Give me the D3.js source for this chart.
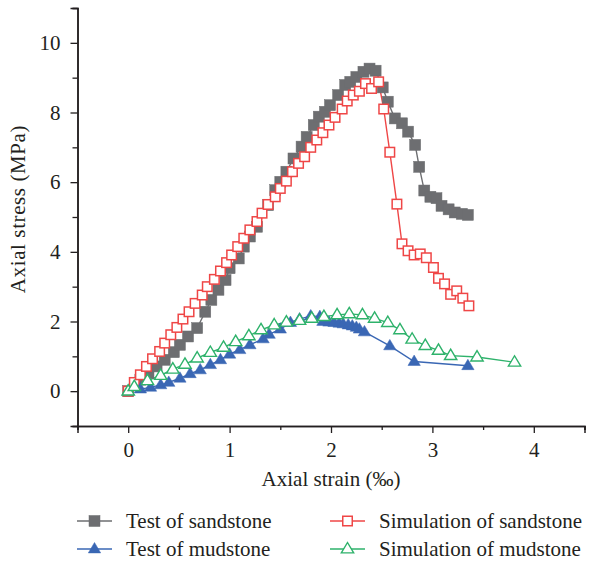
<!DOCTYPE html>
<html>
<head>
<meta charset="utf-8">
<script src="https://cdn.jsdelivr.net/npm/d3@7"></script>
<style>
  body { margin: 0; background: #fff; }
  svg text { font-family: "Liberation Serif", "DejaVu Serif", serif; fill: #231f20; }
</style>
</head>
<body>
<div id="chart"></div>
<script>
// Test of sandstone (strain ‰, stress MPa)
const testSandstone = [
  [0, 0], [0.12, 0.33], [0.20, 0.52], [0.28, 0.71], [0.36, 0.90], [0.45, 1.12], [0.51, 1.33],
  [0.59, 1.57], [0.68, 1.81], [0.76, 2.28], [0.82, 2.62], [0.89, 2.91], [0.96, 3.19], [1.00, 3.53],
  [1.09, 3.81], [1.14, 4.15], [1.20, 4.44], [1.27, 4.72], [1.38, 5.34], [1.45, 5.77], [1.50, 6.01],
  [1.56, 6.30], [1.63, 6.68], [1.71, 7.02], [1.76, 7.30], [1.83, 7.64], [1.88, 7.88], [1.94, 8.02],
  [1.99, 8.21], [2.07, 8.50], [2.14, 8.79], [2.19, 8.88], [2.25, 9.02], [2.32, 9.17], [2.38, 9.26],
  [2.44, 9.20], [2.51, 8.72], [2.56, 8.31], [2.63, 7.83], [2.70, 7.69], [2.76, 7.45], [2.83, 7.07],
  [2.87, 6.44], [2.92, 5.76], [2.98, 5.58], [3.04, 5.54], [3.09, 5.32], [3.16, 5.22], [3.22, 5.13],
  [3.29, 5.09], [3.35, 5.06]
];

// Simulation of sandstone
const simSandstone = [
  [0, 0], [0.06, 0.25], [0.12, 0.47], [0.18, 0.71], [0.24, 0.93], [0.31, 1.14], [0.36, 1.38],
  [0.42, 1.62], [0.48, 1.83], [0.54, 2.07], [0.60, 2.28], [0.66, 2.52], [0.73, 2.76], [0.78, 3.00],
  [0.85, 3.21], [0.91, 3.45], [0.97, 3.69], [1.02, 3.91], [1.08, 4.15], [1.14, 4.39], [1.20, 4.63],
  [1.27, 4.87], [1.32, 5.11], [1.38, 5.36], [1.45, 5.58], [1.50, 5.82], [1.56, 6.03], [1.62, 6.30],
  [1.68, 6.54], [1.74, 6.73], [1.80, 7.00], [1.86, 7.21], [1.92, 7.42], [1.98, 7.64], [2.04, 7.86],
  [2.11, 8.10], [2.16, 8.33], [2.22, 8.50], [2.28, 8.61], [2.34, 8.83], [2.40, 8.69], [2.47, 8.88],
  [2.52, 8.10], [2.58, 6.86], [2.65, 5.37], [2.70, 4.23], [2.76, 4.03], [2.82, 3.91], [2.88, 3.94],
  [2.94, 3.83], [3.01, 3.55], [3.06, 3.24], [3.12, 3.08], [3.18, 2.78], [3.24, 2.88], [3.30, 2.67],
  [3.36, 2.45]
];

// Test of mudstone
const testMudstone = [
  [0, 0], [0.12, 0.06], [0.22, 0.11], [0.32, 0.18], [0.40, 0.25], [0.51, 0.37], [0.61, 0.50],
  [0.71, 0.61], [0.81, 0.76], [0.91, 0.90], [1.00, 1.06], [1.10, 1.19], [1.20, 1.33], [1.33, 1.50],
  [1.39, 1.63], [1.50, 1.78], [1.60, 1.97], [1.69, 2.07], [1.80, 2.16], [1.89, 2.14], [1.92, 2.00],
  [1.98, 1.98], [2.03, 1.97], [2.08, 1.95], [2.12, 1.93], [2.17, 1.90], [2.21, 1.87], [2.25, 1.83],
  [2.28, 1.78], [2.33, 1.70], [2.58, 1.30], [2.82, 0.85], [3.35, 0.73]
];

// Simulation of mudstone
const simMudstone = [
  [0, 0], [0.06, 0.13], [0.19, 0.30], [0.32, 0.45], [0.44, 0.63], [0.56, 0.77], [0.68, 0.95],
  [0.81, 1.11], [0.94, 1.26], [1.06, 1.42], [1.19, 1.59], [1.31, 1.76], [1.44, 1.90], [1.56, 1.98],
  [1.69, 2.03], [1.81, 2.09], [1.93, 2.14], [2.06, 2.19], [2.18, 2.22], [2.31, 2.19], [2.43, 2.09],
  [2.56, 1.97], [2.68, 1.76], [2.80, 1.49], [2.93, 1.31], [3.06, 1.17], [3.18, 1.02], [3.44, 0.98],
  [3.81, 0.83]
];

const xTicks = [0, 1, 2, 3, 4];
const yTicks = [0, 2, 4, 6, 8, 10];

const width = 594, height = 562;
const fontSize = 21;

const svg = d3.select("#chart").append("svg")
  .attr("width", width)
  .attr("height", height);

const x = d3.scaleLinear().domain([-0.5, 4.5]).range([77.5, 584.5]);
const y = d3.scaleLinear().domain([-1, 11]).range([426, 8]);

const series = [
  { name: "Test of sandstone", data: testSandstone, color: "#6d6e71", shape: "square", filled: true },
  { name: "Simulation of sandstone", data: simSandstone, color: "#ef4646", shape: "square", filled: false },
  { name: "Test of mudstone", data: testMudstone, color: "#3a67b4", shape: "triangle", filled: true },
  { name: "Simulation of mudstone", data: simMudstone, color: "#2eb26b", shape: "triangle", filled: false }
];

function drawMarker(g, s, cx, cy) {
  if (s.shape === "square") {
    const size = s.filled ? 11 : 9.5;
    g.append("rect")
      .attr("x", cx - size / 2).attr("y", cy - size / 2)
      .attr("width", size).attr("height", size)
      .attr("fill", s.filled ? s.color : "#fff")
      .attr("stroke", s.color)
      .attr("stroke-width", s.filled ? 0.5 : 1.5);
  } else {
    const r = 6.5;
    const pts = [[cx, cy - r], [cx + r * 0.95, cy + r * 0.6], [cx - r * 0.95, cy + r * 0.6]];
    g.append("path")
      .attr("d", "M" + pts.join("L") + "Z")
      .attr("fill", s.filled ? s.color : "#fff")
      .attr("stroke", s.color)
      .attr("stroke-width", s.filled ? 0.5 : 1.4);
  }
}

// axes
const xAxis = svg.append("g").attr("transform", `translate(0,${y(-1)})`);
xAxis.call(d3.axisBottom(x).tickValues(xTicks).tickSize(7).tickPadding(9).tickFormat(d3.format("d")));
const xMinor = svg.append("g").attr("transform", `translate(0,${y(-1)})`);
xMinor.call(d3.axisBottom(x).tickValues([-0.5, 0.5, 1.5, 2.5, 3.5, 4.5]).tickSize(4).tickFormat(""));

const yAxis = svg.append("g").attr("transform", `translate(${x(-0.5)},0)`);
yAxis.call(d3.axisLeft(y).tickValues(yTicks).tickSize(7).tickPadding(10).tickFormat(d3.format("d")));
const yMinor = svg.append("g").attr("transform", `translate(${x(-0.5)},0)`);
yMinor.call(d3.axisLeft(y).tickValues([-1, 1, 3, 5, 7, 9, 11]).tickSize(5).tickFormat(""));

svg.selectAll(".domain").attr("stroke", "#231f20").attr("stroke-width", 1.5);
svg.selectAll(".tick line").attr("stroke", "#231f20").attr("stroke-width", 1.3);
svg.selectAll(".tick text")
  .attr("font-family", "Liberation Serif, serif")
  .attr("font-size", fontSize)
  .attr("fill", "#231f20");

// lines and markers
const line = d3.line().x(d => x(d[0])).y(d => y(d[1]));
series.forEach(s => {
  svg.append("path")
    .datum(s.data)
    .attr("fill", "none")
    .attr("stroke", s.color)
    .attr("stroke-width", 1.4)
    .attr("d", line);
});
series.forEach(s => {
  const g = svg.append("g");
  s.data.forEach(d => drawMarker(g, s, x(d[0]), y(d[1])));
});

// axis titles
svg.append("text")
  .attr("x", 331).attr("y", 486)
  .attr("text-anchor", "middle")
  .attr("font-size", fontSize)
  .text("Axial strain (‰)");

svg.append("text")
  .attr("transform", "translate(25,209) rotate(-90)")
  .attr("text-anchor", "middle")
  .attr("font-size", fontSize)
  .attr("letter-spacing", 0.6)
  .text("Axial stress (MPa)");

// legend
const legendPos = [
  { s: series[0], lx: 77, ly: 521 },
  { s: series[1], lx: 330, ly: 521 },
  { s: series[2], lx: 77, ly: 549 },
  { s: series[3], lx: 330, ly: 549 }
];
legendPos.forEach(p => {
  const g = svg.append("g");
  g.append("line")
    .attr("x1", p.lx).attr("x2", p.lx + 35)
    .attr("y1", p.ly).attr("y2", p.ly)
    .attr("stroke", p.s.color).attr("stroke-width", 1.4);
  drawMarker(g, p.s, p.lx + 17.5, p.ly);
  g.append("text")
    .attr("x", p.lx + 49).attr("y", p.ly + 7)
    .attr("font-size", fontSize)
    .text(p.s.name);
});
</script>
</body>
</html>
